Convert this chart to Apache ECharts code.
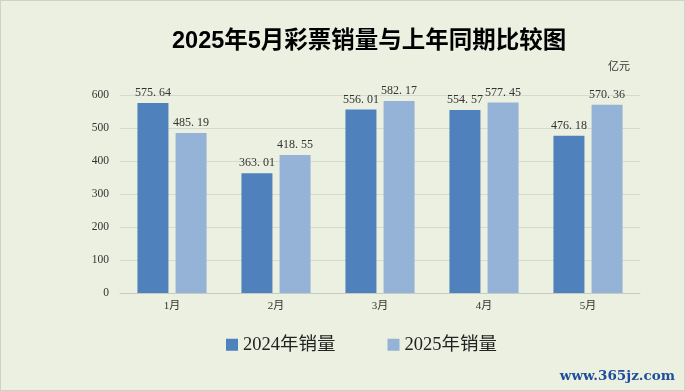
<!DOCTYPE html>
<html><head><meta charset="utf-8">
<script src="https://cdn.jsdelivr.net/npm/echarts@6/dist/echarts.min.js"></script>
<style>html,body{margin:0;padding:0;background:#ECF0E0;}#c{width:685px;height:391px;box-sizing:border-box;border:1px solid #cfd2c8;}</style>
</head><body><div id="c"></div>
<script>
const categories = ['1月','2月','3月','4月','5月'];
const sales2024 = [575.64, 363.01, 556.01, 554.57, 476.18];
const sales2025 = [485.19, 418.55, 582.17, 577.45, 570.36];
const yTicks = [0, 100, 200, 300, 400, 500, 600];
const seriesNames = ['2024年销量', '2025年销量'];

const serif = '"Liberation Serif","DejaVu Serif","Noto Sans CJK SC",serif';
const fmt = p => p.value.toFixed(2).replace('.', '. ');
const chart = echarts.init(document.getElementById('c'));
chart.setOption({
  backgroundColor: '#ECF0E0',
  animation: false,
  title: {
    text: '2025年5月彩票销量与上年同期比较图',
    left: 166, top: 24,
    textStyle: {fontSize: 23.5, fontWeight: 'bold', color: '#000', fontFamily: '"Liberation Sans Narrow","Liberation Sans","Noto Sans CJK SC",sans-serif'}
  },
  legend: {
    bottom: 31, left: 220, itemWidth: 12, itemHeight: 12, itemGap: 52,
    icon: 'rect',
    textStyle: {fontSize: 18.5, color: '#222', fontFamily: serif},
    data: seriesNames
  },
  grid: {left: 119, right: 44, top: 94, bottom: 97},
  xAxis: {
    type: 'category', data: categories,
    axisLine: {lineStyle: {color: '#c8cac4'}},
    axisTick: {show: false},
    axisLabel: {fontSize: 11, color: '#333', fontFamily: serif, margin: 8}
  },
  yAxis: {
    type: 'value', min: 0, max: yTicks[yTicks.length-1], interval: 100,
    name: '亿元', nameLocation: 'end', nameGap: 22,
    nameTextStyle: {fontSize: 11, color: '#333', align: 'left', padding: [0, 0, 0, 488], fontFamily: serif},
    axisLine: {show: false}, axisTick: {show: false},
    axisLabel: {fontSize: 11.5, color: '#333', fontFamily: serif, margin: 11},
    splitLine: {lineStyle: {color: '#d6d8d2'}}
  },
  series: [
    {name: seriesNames[0], type: 'bar', data: sales2024, barWidth: 31, barGap: '23%',
     itemStyle: {color: '#4F81BD'},
     label: {show: true, position: 'top', formatter: fmt, fontSize: 12, color: '#333', fontFamily: serif, distance: 4}},
    {name: seriesNames[1], type: 'bar', data: sales2025, barWidth: 31,
     itemStyle: {color: '#95B3D7'},
     label: {show: true, position: 'top', formatter: fmt, fontSize: 12, color: '#333', fontFamily: serif, distance: 4}}
  ],
  graphic: [{
    type: 'text', right: 9, bottom: 7,
    style: {text: 'www.365jz.com', fontSize: 13.5, fontWeight: 'bold', fill: '#1f4e9a', fontFamily: '"DejaVu Serif",serif'}
  }]
});
</script></body></html>
